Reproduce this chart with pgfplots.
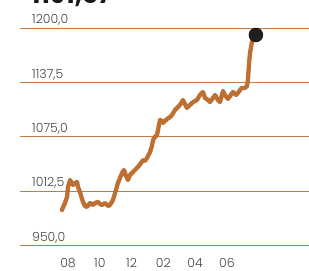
\documentclass[border=0pt]{standalone}
\usepackage{pgfplots}
\pgfplotsset{compat=1.18}
\usepackage{fontspec}
\setmainfont{Poppins}
\newfontfamily\lightfont{Poppins Light}
\definecolor{linec}{RGB}{189,112,50}
\definecolor{gridc}{RGB}{196,122,66}
\definecolor{labc}{RGB}{70,70,70}
\begin{document}
\begin{tikzpicture}
\useasboundingbox (0,0) rectangle (309pt,271pt);
\node[anchor=base west, inner sep=0pt, font=\fontsize{25}{25}\selectfont\bfseries, text=black!90] at (31pt,267pt) {1191,57};
\begin{axis}[
  at={(20pt,25pt)}, anchor=south west,
  scale only axis, width=289pt, height=218pt,
  xmin=4.98, xmax=23.16, ymin=950, ymax=1200,
  clip=false,
  axis line style={draw=none},
  tick style={draw=none},
  ymajorgrids, grid style={gridc, line width=1pt},
  ytick={950,1012.5,1075,1137.5,1200},
  yticklabels={{950,0},{1012,5},{1075,0},{1137,5},{1200,0}},
  yticklabel style={anchor=base west, inner sep=0pt, xshift=12pt, yshift=4.5pt, font=\lightfont\fontsize{12.5}{12.5}\selectfont, text=labc},
  xtick={8,10,12,14,16,18},
  xticklabels={08,10,12,02,04,06},
  xticklabel style={anchor=base, inner sep=0pt, yshift=-22pt, font=\lightfont\fontsize{12.5}{12.5}\selectfont, text=labc},
  /pgf/number format/assume math mode=true,
]
\addplot[linec, line width=4.3pt, line join=round, line cap=round] coordinates {
(7.62,991.3)(7.69,994.7)(7.81,999.3)(7.94,1006.2)(8.00,1017.7)(8.13,1025.7)
(8.31,1020.0)(8.44,1022.2)(8.57,1023.4)(8.63,1017.7)(8.75,1011.9)(8.94,1000.5)
(9.07,995.9)(9.19,994.7)(9.38,999.3)(9.57,997.0)(9.70,999.3)(9.89,1000.5)
(10.01,998.2)(10.14,997.0)(10.33,999.3)(10.52,995.9)(10.64,997.0)(10.83,1002.8)
(10.96,1010.8)(11.14,1022.2)(11.27,1028.0)(11.40,1033.7)(11.52,1037.2)(11.65,1030.3)
(11.77,1025.7)(11.90,1031.4)(12.09,1034.9)(12.21,1037.2)(12.40,1040.6)(12.59,1045.2)
(12.72,1048.6)(12.84,1047.5)(12.97,1050.9)(13.16,1057.8)(13.28,1064.7)(13.35,1071.6)
(13.47,1075.0)(13.60,1077.3)(13.72,1088.8)(13.79,1094.5)(13.91,1093.4)(13.97,1091.1)
(14.10,1093.4)(14.23,1095.6)(14.42,1097.9)(14.54,1100.2)(14.73,1106.0)(14.92,1109.4)
(15.04,1111.7)(15.23,1117.4)(15.36,1112.8)(15.48,1108.3)(15.67,1111.7)(15.80,1114.0)
(15.99,1116.3)(16.11,1117.4)(16.30,1123.2)(16.49,1126.6)(16.62,1119.7)(16.81,1117.4)
(16.93,1115.1)(17.12,1119.7)(17.25,1123.2)(17.43,1117.4)(17.56,1115.1)(17.75,1127.8)
(17.87,1123.2)(18.06,1118.6)(18.19,1122.0)(18.38,1126.6)(18.57,1123.2)(18.69,1125.5)
(18.82,1128.9)(18.94,1131.2)(19.13,1131.2)(19.26,1133.5)(19.32,1140.4)(19.38,1157.6)
(19.45,1171.3)(19.57,1183.9)(19.76,1189.7)(19.82,1192.0)
};
\addplot[only marks, mark=*, mark size=7pt, mark options={fill=black!88, draw=none}] coordinates {(19.82,1192.0)};
\end{axis}
\end{tikzpicture}
\end{document}
